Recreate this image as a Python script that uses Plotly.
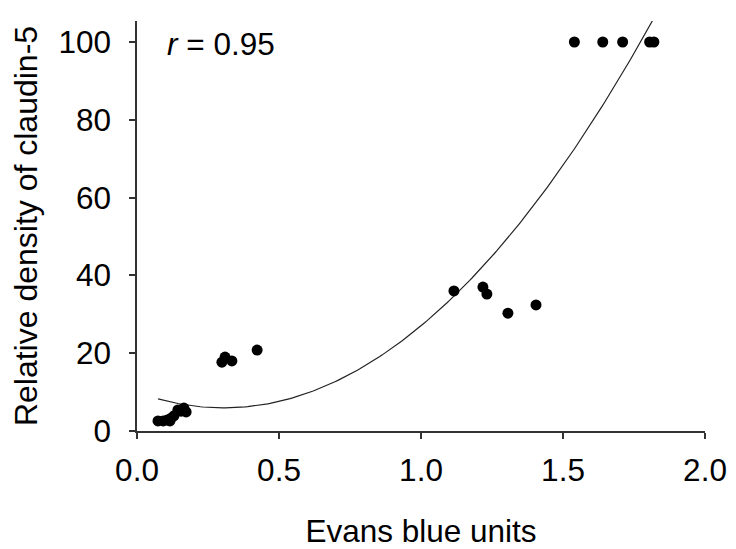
import numpy as np
import plotly.graph_objects as go

# Evans blue units vs relative density of claudin-5
evans_blue = [0.074, 0.092, 0.106, 0.116, 0.120, 0.130, 0.144, 0.155, 0.165, 0.173,
              0.299, 0.310, 0.334, 0.423,
              1.116, 1.218, 1.232, 1.306, 1.405,
              1.540, 1.640, 1.710, 1.805, 1.820]
claudin5 = [2.6, 2.6, 2.8, 2.6, 3.3, 3.9, 5.4, 5.1, 5.9, 4.9,
            17.7, 19.0, 18.0, 20.8,
            36.0, 37.0, 35.2, 30.3, 32.4,
            100, 100, 100, 100, 100]
r_text = "<i>r</i> = 0.95"

font = "Liberation Sans, Arial, sans-serif"

# second-order polynomial trendline
coef = np.polyfit(evans_blue, claudin5, 2)
x_fit = np.linspace(min(evans_blue), max(evans_blue), 200)
y_fit = np.polyval(coef, x_fit)

fig = go.Figure()
fig.add_trace(go.Scatter(
    x=x_fit, y=y_fit, mode="lines",
    line=dict(color="#222", width=1.2),
    hoverinfo="skip",
))
fig.add_trace(go.Scatter(
    x=evans_blue, y=claudin5, mode="markers",
    marker=dict(color="black", size=11),
))
fig.add_annotation(
    text=r_text, xref="paper", yref="paper", x=0.05, y=0.944,
    xanchor="left", yanchor="middle", showarrow=False,
    font=dict(family=font, size=31.5, color="black"),
)

axis_style = dict(
    showline=True, linecolor="#333", linewidth=1.5,
    ticks="outside", ticklen=6, tickcolor="#333", tickwidth=1.5,
    showgrid=False, zeroline=False, automargin=False,
    tickfont=dict(family=font, size=31.5, color="black"),
)
fig.update_xaxes(
    range=[0, 2.0], dtick=0.5, tickformat=".1f",
    ticklabelstandoff=4,
    title=dict(text="Evans blue units", standoff=33,
               font=dict(family=font, size=31.5, color="black")),
    **axis_style,
)
fig.update_yaxes(
    range=[0, 105.4], dtick=20,
    ticklabelstandoff=12,
    title=dict(text="Relative density of claudin-5", standoff=12,
               font=dict(family=font, size=32, color="black")),
    **axis_style,
)
# page body adds 8px offset, so the figure is 8px smaller and shifted
fig.update_layout(
    width=728, height=541,
    margin=dict(l=129, r=31, t=13, b=118),
    plot_bgcolor="white", paper_bgcolor="white",
    showlegend=False,
)
fig.write_html("out.html")
